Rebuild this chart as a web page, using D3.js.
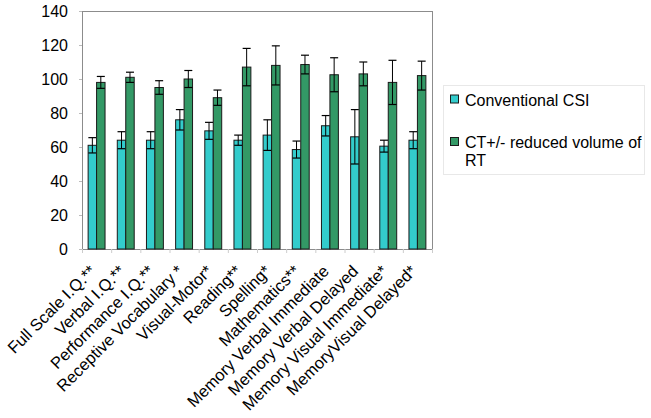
<!DOCTYPE html>
<html>
<head>
<meta charset="utf-8">
<script src="https://cdn.jsdelivr.net/npm/d3@7"></script>
<style>
  body { margin: 0; background: #fff; }
  svg { display: block; }
  text { font-family: "Liberation Sans", Arial, sans-serif; fill: #000; }
</style>
</head>
<body>
<svg id="chart" width="651" height="418"></svg>
<script>
const categories = [
  "Full Scale I.Q.**", "Verbal I.Q.**", "Performance I.Q.**", "Receptive Vocabulary *",
  "Visual-Motor*", "Reading**", "Spelling*", "Mathematics**",
  "Memory Verbal Immediate", "Memory Verbal  Delayed", "Memory Visual Immediate*", "MemoryVisual Delayed*"
];
const seriesNames = ["Conventional CSI", "CT+/- reduced volume of RT"];
const conventional = [61, 64, 64, 76, 69.5, 64, 67, 58.5, 72.5, 66, 60.5, 64];
const conventionalErr = [4.5, 5, 5, 6, 5, 3, 9, 5, 6, 16, 3.5, 5];
const reduced = [98, 101, 95, 100, 89, 107, 108, 108.5, 102.5, 103, 98, 102];
const reducedErr = [3.5, 3, 4, 5, 4.5, 11, 11.5, 5.5, 10, 7, 13, 8.5];
const yTicks = [0, 20, 40, 60, 80, 100, 120, 140];
const colors = ["#33CCCC", "#339966"];

const svg = d3.select("#chart");
const margin = {left: 82, top: 11, right: 219, bottom: 169};
const W = 651 - margin.left - margin.right;
const H = 418 - margin.top - margin.bottom;
const g = svg.append("g").attr("transform", `translate(${margin.left},${margin.top})`);

const x0 = d3.scaleBand().domain(categories).range([0, W]).paddingInner(0).paddingOuter(0);
const innerW = x0.bandwidth() * 0.58;
const x1 = d3.scaleBand().domain([0, 1]).range([(x0.bandwidth() - innerW) / 2, (x0.bandwidth() + innerW) / 2]);
const y = d3.scaleLinear().domain([0, 140]).range([H, 0]);

// plot border
g.append("rect").attr("x", 0.5).attr("y", 0.5).attr("width", W).attr("height", H)
  .attr("fill", "none").attr("stroke", "#8c8c8c").attr("stroke-width", 1);

// y axis
const yAxis = g.append("g").call(d3.axisLeft(y).tickValues(yTicks).tickSize(3).tickPadding(11));
yAxis.select(".domain").attr("stroke", "#8c8c8c");
yAxis.selectAll(".tick line").attr("stroke", "#bbb");
yAxis.selectAll("text").attr("font-size", 16).attr("font-family", '"Liberation Sans", Arial, sans-serif');

// x axis: ticks between groups
const xAxisG = g.append("g").attr("transform", `translate(0,${H})`);
xAxisG.append("line").attr("x1", 0).attr("x2", W).attr("y1", 0.5).attr("y2", 0.5).attr("stroke", "#8c8c8c");
xAxisG.selectAll("line.sep").data(categories.concat(["end"])).enter().append("line")
  .attr("class", "sep")
  .attr("x1", (d, i) => i * x0.step() + 0.5).attr("x2", (d, i) => i * x0.step() + 0.5)
  .attr("y1", 0).attr("y2", 4).attr("stroke", "#ccc");

xAxisG.selectAll("text.lbl").data(categories).enter().append("text")
  .attr("class", "lbl")
  .attr("font-size", 16.5)
  .attr("text-anchor", "end")
  .attr("transform", d => `translate(${x0(d) + x0.bandwidth() / 2 - 8},${15}) rotate(-45)`)
  .attr("dy", "0.7em")
  .text(d => d);

const series = [
  {vals: conventional, errs: conventionalErr},
  {vals: reduced, errs: reducedErr}
];

series.forEach((s, si) => {
  const gs = g.append("g");
  categories.forEach((c, i) => {
    const bx = x0(c) + x1(si);
    const bw = x1.bandwidth();
    gs.append("rect")
      .attr("x", bx).attr("y", y(s.vals[i]))
      .attr("width", bw).attr("height", y(0) - y(s.vals[i]))
      .attr("fill", colors[si]).attr("stroke", "#1a1a1a").attr("stroke-width", 1);
    const cx = bx + bw / 2;
    const top = y(s.vals[i] + s.errs[i]);
    const bot = y(s.vals[i] - s.errs[i]);
    gs.append("line").attr("x1", cx).attr("x2", cx).attr("y1", top).attr("y2", bot)
      .attr("stroke", "#000").attr("stroke-width", 1);
    gs.append("line").attr("x1", cx - 4).attr("x2", cx + 4).attr("y1", top).attr("y2", top)
      .attr("stroke", "#000").attr("stroke-width", 1.2);
    gs.append("line").attr("x1", cx - 4).attr("x2", cx + 4).attr("y1", bot).attr("y2", bot)
      .attr("stroke", "#000").attr("stroke-width", 1.2);
  });
});

// legend
const lg = svg.append("g");
lg.append("rect").attr("x", 443.5).attr("y", 85.5).attr("width", 201).attr("height", 89)
  .attr("fill", "#fff").attr("stroke", "#e8e8e8");
const legendRows = [
  {name: ["Conventional CSI"], cy: 99.5},
  {name: ["CT+/- reduced volume of", "RT"], cy: 142}
];
legendRows.forEach((r, i) => {
  lg.append("rect").attr("x", 450.5).attr("y", r.cy - 4.5).attr("width", 8).attr("height", 8)
    .attr("fill", colors[i]).attr("stroke", "#1a1a1a");
  const t = lg.append("text").attr("x", 465).attr("y", r.cy + 6).attr("font-size", 16);
  r.name.forEach((line, li) => {
    t.append("tspan").attr("x", 465).attr("dy", li === 0 ? 0 : 18).text(line);
  });
});
</script>
</body>
</html>
